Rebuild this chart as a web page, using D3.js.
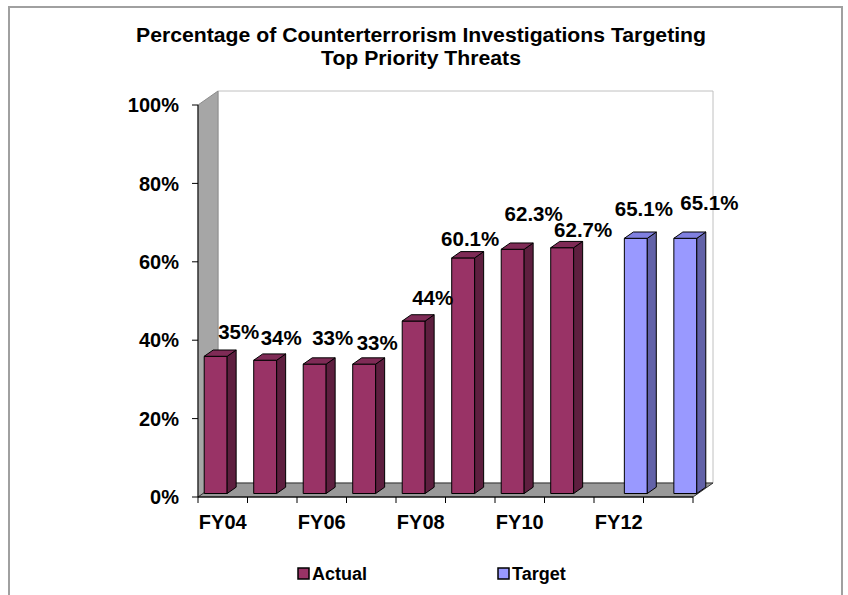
<!DOCTYPE html>
<html>
<head>
<meta charset="utf-8">
<title>Counterterrorism investigations</title>
<script src="https://d3js.org/d3.v7.min.js"></script>
<style>
    html, body { margin: 0; padding: 0; background: #fff; }
    svg { display: block; }
    text { font-family: "Liberation Sans", Arial, sans-serif; font-weight: bold; fill: #000; }
    .edge { stroke: #000; stroke-width: 1px; }
</style>
</head>
<body>
<svg width="848" height="595"></svg>
<script>
// data
const categories = ['FY04','FY05','FY06','FY07','FY08','FY09','FY10','FY11','FY12','FY13'];
const actual = [35, 34, 33, 33, 44, 60.1, 62.3, 62.7, null, null];
const target = [null, null, null, null, null, null, null, null, 65.1, 65.1];
const actualLabels = ['35%','34%','33%','33%','44%','60.1%','62.3%','62.7%'];
const targetLabels = ['65.1%','65.1%'];
const shownTicks = ['FY04','FY06','FY08','FY10','FY12'];
const yTicks = [0, 20, 40, 60, 80, 100];
const seriesNames = ['Actual', 'Target'];

// Excel puts 3D labels a bit everywhere, nudges relative to bar top
const labelNudge = [[23,-25],[16,-23],[18,-27],[13,-22],[19,-23],[7,-19],[21,-36],[21,-18],[8,-30],[24,-36]];

const colours = {
    Actual: { front: '#993366', side: '#5e1f3f', top: '#7f2b56' },
    Target: { front: '#9999ff', side: '#6262a8', top: '#8080e0' }
};

let svg = d3.select('svg');

// frame
svg.append('rect')
    .attr('x', 9).attr('y', 7)
    .attr('width', 833).attr('height', 610)
    .attr('fill', '#fff')
    .attr('stroke', '#a0a0a0')
    .attr('stroke-width', 2);

// plot box, front plane
let pLeft = 198, pRight = 693, pTop = 105, pBottom = 497;
let DX = 20, DY = -14;   // full depth offset
let proj = (x, y, d) => [x + DX * d, y + DY * d];
let poly = pts => 'M' + pts.map(p => p.join(',')).join('L') + 'Z';

let x = d3.scaleBand().domain(categories).range([pLeft, pRight]);
let x1 = d3.scaleBand().domain(seriesNames).range([0, x.bandwidth()])
            .paddingInner(0.05).paddingOuter(0.05);
let y = d3.scaleLinear().domain([0, 100]).range([pBottom, pTop]);

// back wall
svg.append('path')
    .attr('d', poly([proj(pLeft, pTop, 1), proj(pRight, pTop, 1), proj(pRight, pBottom, 1), proj(pLeft, pBottom, 1)]))
    .attr('fill', '#fff')
    .attr('stroke', '#c0c0c0');

// side wall
svg.append('path')
    .attr('d', poly([proj(pLeft, pTop, 0), proj(pLeft, pTop, 1), proj(pLeft, pBottom, 1), proj(pLeft, pBottom, 0)]))
    .attr('fill', '#a6a6a6')
    .attr('stroke', '#8c8c8c');

// floor
svg.append('path')
    .attr('d', poly([proj(pLeft, pBottom, 0), proj(pRight, pBottom, 0), proj(pRight, pBottom, 1), proj(pLeft, pBottom, 1)]))
    .attr('fill', '#999999')
    .attr('stroke', '#333');

// axis lines
svg.append('line').attr('class', 'edge')
    .attr('x1', pLeft).attr('y1', pTop).attr('x2', pLeft).attr('y2', pBottom);
svg.append('line').attr('class', 'edge')
    .attr('x1', pLeft).attr('y1', pBottom).attr('x2', pRight).attr('y2', pBottom);

// y ticks + labels
svg.selectAll('.ytick')
    .data(yTicks)
    .join('line')
    .attr('class', 'edge')
    .attr('x1', pLeft - 6).attr('x2', pLeft)
    .attr('y1', d => y(d)).attr('y2', d => y(d));

svg.selectAll('.ylabel')
    .data(yTicks)
    .join('text')
    .attr('x', pLeft - 19)
    .attr('y', d => y(d))
    .attr('dy', '0.36em')
    .attr('text-anchor', 'end')
    .style('font-size', '20px')
    .text(d => d + '%');

// x ticks at category boundaries
let xBounds = categories.map(c => x(c)).concat([pRight]);
svg.selectAll('.xtick')
    .data(xBounds)
    .join('line')
    .attr('class', 'edge')
    .attr('x1', d => d).attr('x2', d => d)
    .attr('y1', pBottom).attr('y2', pBottom + 6);

svg.selectAll('.xlabel')
    .data(shownTicks)
    .join('text')
    .attr('x', d => x(d) + x.bandwidth() / 2)
    .attr('y', pBottom + 25)
    .attr('dy', '0.36em')
    .attr('text-anchor', 'middle')
    .style('font-size', '20px')
    .text(d => d);

// bars
let d0 = 0.25, d1 = 0.7;
let bars = [];
categories.forEach((c, i) => {
    if (actual[i] != null) bars.push({ cat: c, series: 'Actual', value: actual[i], label: actualLabels[i] });
    if (target[i] != null) bars.push({ cat: c, series: 'Target', value: target[i], label: targetLabels[i - 8] });
});
bars.forEach((b, i) => {
    b.x0 = x(b.cat) + x1(b.series);
    b.x1 = b.x0 + x1.bandwidth();
    b.yt = y(b.value);
    b.nudge = labelNudge[i];
});

let barG = svg.selectAll('.bar')
    .data(bars)
    .join('g')
    .attr('class', 'bar');

barG.append('path')
    .attr('class', 'edge')
    .attr('fill', d => colours[d.series].front)
    .attr('d', d => poly([proj(d.x0, d.yt, d0), proj(d.x1, d.yt, d0), proj(d.x1, pBottom, d0), proj(d.x0, pBottom, d0)]));

barG.append('path')
    .attr('class', 'edge')
    .attr('fill', d => colours[d.series].side)
    .attr('d', d => poly([proj(d.x1, d.yt, d0), proj(d.x1, d.yt, d1), proj(d.x1, pBottom, d1), proj(d.x1, pBottom, d0)]));

barG.append('path')
    .attr('class', 'edge')
    .attr('fill', d => colours[d.series].top)
    .attr('d', d => poly([proj(d.x0, d.yt, d0), proj(d.x1, d.yt, d0), proj(d.x1, d.yt, d1), proj(d.x0, d.yt, d1)]));

// data labels
svg.selectAll('.dlabel')
    .data(bars)
    .join('text')
    .attr('x', d => proj((d.x0 + d.x1) / 2, d.yt, d0)[0] + d.nudge[0])
    .attr('y', d => proj((d.x0 + d.x1) / 2, d.yt, d0)[1] + d.nudge[1])
    .attr('dy', '0.36em')
    .attr('text-anchor', 'middle')
    .style('font-size', '20.5px')
    .text(d => d.label);

// title, the original font is a bit condensed
let titleLines = ['Percentage of Counterterrorism Investigations Targeting', 'Top Priority Threats'];
let titles = svg.selectAll('.title')
    .data(titleLines)
    .join('text')
    .attr('x', 421)
    .attr('y', (d, i) => 42 + i * 23)
    .attr('text-anchor', 'middle')
    .style('font-size', '20px')
    .text(d => d);
let squeeze = 570 / titles.node().getComputedTextLength();
titles.each(function () {
    let w = this.getComputedTextLength();
    d3.select(this).attr('textLength', w * squeeze).attr('lengthAdjust', 'spacingAndGlyphs');
});

// legend
let legend = svg.selectAll('.legend')
    .data(seriesNames)
    .join('g')
    .attr('transform', (d, i) => `translate(${298 + i * 200}, 568)`);
legend.append('rect')
    .attr('width', 11).attr('height', 11)
    .attr('fill', d => colours[d].front)
    .attr('stroke', '#000').attr('stroke-width', 1.5);
legend.append('text')
    .attr('x', 14).attr('y', 5.5)
    .attr('dy', '0.36em')
    .style('font-size', '18px')
    .text(d => d);
</script>
</body>
</html>
